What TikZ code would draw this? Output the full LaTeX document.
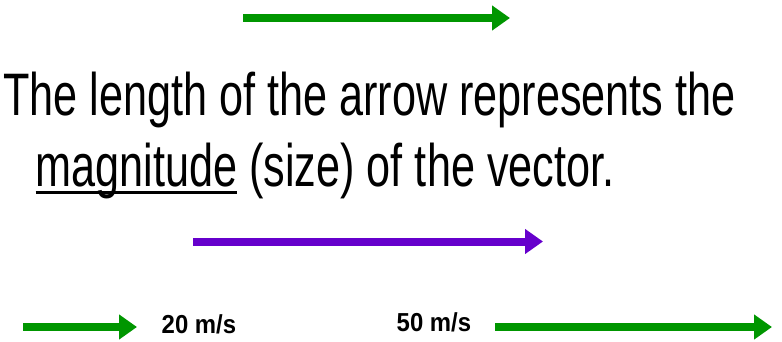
\documentclass[tikz,border=0pt]{standalone}
\usepackage{fontspec}
\usepackage{graphicx}
\usetikzlibrary{arrows.meta}
\newfontfamily\bigf[FakeStretch=0.72]{Liberation Sans}
\newfontfamily\labf[FakeStretch=0.92]{Liberation Sans}
\definecolor{vgreen}{RGB}{0,150,0}
\definecolor{vpurple}{RGB}{102,0,204}
\newcommand\myul[1]{\setbox0\hbox{#1}\rlap{\rule[-7.25pt]{\wd0}{2.5pt}}\box0\relax}
\tikzset{
  vec/.style={line width=8pt, -{Triangle[length=18pt,width=24pt]}},
  bigtext/.style={anchor=base west, inner sep=0pt, font=\bigf\fontsize{60}{72}\selectfont},
  labtext/.style={anchor=base west, inner sep=0pt, font=\labf\bfseries\fontsize{26}{30}\selectfont}
}
\begin{document}
\begin{tikzpicture}[x=1pt,y=-1pt]
\useasboundingbox (0,0) rectangle (782,341);
% arrows
\coordinate (a1s) at (243,18);  \coordinate (a1e) at (510,18);
\coordinate (a2s) at (193,241.5); \coordinate (a2e) at (543,241.5);
\coordinate (a3s) at (23,327);  \coordinate (a3e) at (137,327);
\coordinate (a4s) at (495,327); \coordinate (a4e) at (772,327);
\draw[vec, vgreen] (a1s) -- (a1e);
\draw[vec, vpurple] (a2s) -- (a2e);
\draw[vec, vgreen] (a3s) -- (a3e);
\draw[vec, vgreen] (a4s) -- (a4e);
% text
\node[bigtext] (l1) at (3,115) {The length of the arrow represents the};
\node[bigtext] (l2) at (35.5,186.7) {\myul{magnitude} (size) of the vector.};
\node[labtext] (v20) at (161.5,333.3) {20 m/s};
\node[labtext] (v50) at (396.5,331.7) {50 m/s};
\end{tikzpicture}
\end{document}
